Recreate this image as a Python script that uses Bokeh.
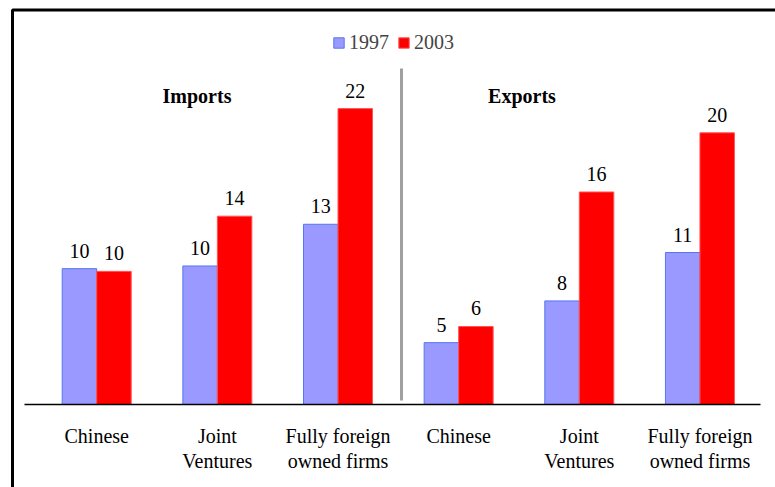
from bokeh.plotting import figure
from bokeh.models import ColumnDataSource, Range1d, BoxAnnotation, Legend, LegendItem
from bokeh.core.properties import value
from bokeh.embed import file_html
from bokeh.resources import INLINE

# ---- data ----
categories = ["Chinese", "Joint\nVentures", "Fully foreign\nowned firms",
              "Chinese", "Joint\nVentures", "Fully foreign\nowned firms"]
groups = ["Imports", "Exports"]
years = ["1997", "2003"]
values_1997 = [10.1, 10.3, 13.4, 4.6, 7.7, 11.3]
values_2003 = [9.9, 14.0, 22.0, 5.8, 15.8, 20.2]

# ---- layout constants (pixels) ----
W, H = 775, 487
X0, DX = 96.2, 120.65      # px of first category centre, px per category
BASE, SY = 404.0, 13.45     # px of zero line, px per unit
BAR_W = 34.5 / DX
FONT = "Liberation Serif"

def xd(px):
    return (px - X0) / DX

def yd(py):
    return (BASE - py) / SY

idx = list(range(len(categories)))
src = ColumnDataSource(dict(
    x97=[i - BAR_W / 2 for i in idx],
    x03=[i + BAR_W / 2 for i in idx],
    v97=values_1997,
    v03=values_2003,
    l97=[str(int(round(v))) for v in values_1997],
    l03=[str(int(round(v))) for v in values_2003],
))

p = figure(width=W, height=H, output_backend="svg", toolbar_location=None,
           x_range=Range1d(xd(0), xd(W)), y_range=Range1d(yd(H), yd(0)),
           x_axis_type=None, y_axis_type=None, min_border=0,
           background_fill_color="white", border_fill_color="white")
p.grid.visible = False
p.outline_line_color = None

r97 = p.vbar(x="x97", top="v97", bottom=0, width=BAR_W, source=src,
             fill_color="#9999FF", line_color="#5577EE", line_width=1)
r03 = p.vbar(x="x03", top="v03", bottom=0, width=BAR_W, source=src,
             fill_color="#FF0000", line_color="#FF5555", line_width=1)

# value labels
for xc, yc, lc in (("x97", "v97", "l97"), ("x03", "v03", "l03")):
    p.text(x=xc, y=yc, text=lc, source=src, text_align="center",
           text_baseline="middle", y_offset=-18,
           text_font=value(FONT), text_font_size="20px", text_color="black")

# category labels (one or two lines)
line1 = [c.split("\n")[0] for c in categories]
line2 = [c.split("\n")[1] if "\n" in c else "" for c in categories]
cat_src = ColumnDataSource(dict(x=idx, y=[0] * len(idx), l1=line1, l2=line2))
p.text(x="x", y="y", text="l1", source=cat_src, text_align="center",
       text_baseline="middle", y_offset=31, text_font=value(FONT),
       text_font_size="20px", text_color="black")
p.text(x="x", y="y", text="l2", source=cat_src, text_align="center",
       text_baseline="middle", y_offset=56, text_font=value(FONT),
       text_font_size="20px", text_color="black")

# group titles
p.text(x=[xd(196.5), xd(521.5)], y=[yd(95), yd(95)], text=groups,
       text_align="center", text_baseline="middle", text_font=value(FONT),
       text_font_size="20px", text_font_style="bold", text_color="black")

# zero line and divider
p.segment(x0=[xd(24)], y0=[0], x1=[xd(760)], y1=[0], line_color="black", line_width=1.5)
p.segment(x0=[xd(401)], y0=[yd(400)], x1=[xd(401)], y1=[yd(68)],
          line_color="#A0A0A0", line_width=3)

# outer border
p.add_layout(BoxAnnotation(left=xd(12), top=yd(9.5), right=xd(900), bottom=yd(600),
                           fill_alpha=0, line_color="black", line_alpha=1.0,
                           line_width=3))

legend = Legend(items=[LegendItem(label=years[0], renderers=[r97]),
                       LegendItem(label=years[1], renderers=[r03])],
                orientation="horizontal", location=(332, 433),
                padding=0, margin=0, spacing=8, label_standoff=4,
                glyph_width=13, glyph_height=13,
                label_text_font=FONT, label_text_font_size="20px",
                border_line_color=None, background_fill_alpha=0)
p.add_layout(legend)

open("out.html", "w").write(file_html(p, INLINE))
